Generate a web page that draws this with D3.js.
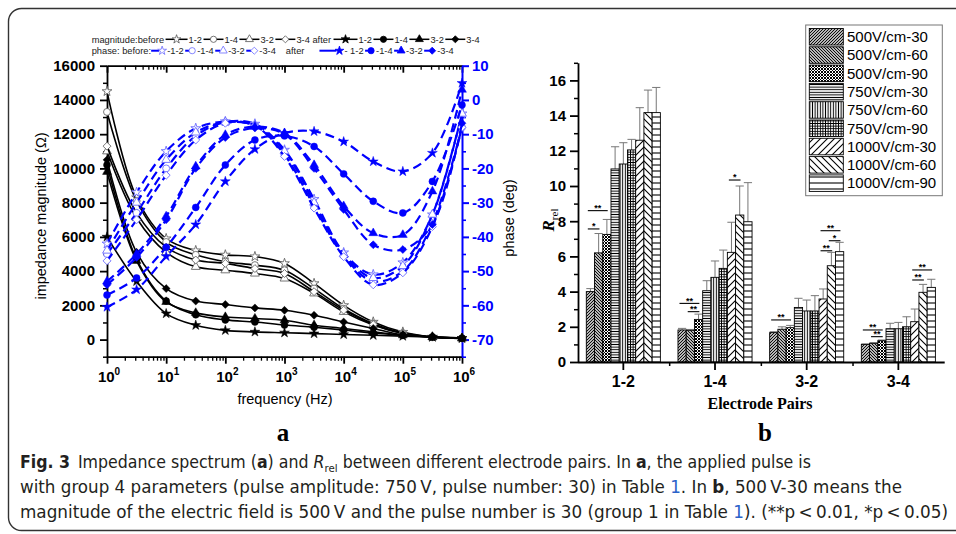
<!DOCTYPE html>
<html>
<head>
<meta charset="utf-8">
<script src="https://cdn.jsdelivr.net/npm/d3@7"></script>
<style>
  body { margin: 0; background: #fff; }
  svg text { font-family: "Liberation Sans", Arial, sans-serif; }
</style>
</head>
<body>
<svg width="956" height="534"></svg>
<script>
// ---------- panel a data: impedance spectrum ----------
const freqs = [1, 3.162, 10, 31.62, 100, 316.2, 1000, 3162, 1e4, 31620, 1e5, 316200, 1e6];
const pairs = ["1-2", "1-4", "3-2", "3-4"];

// magnitude (ohm)
const magBefore12 = [14500, 8300, 5900, 5200, 4950, 4850, 4450, 3280, 2000, 1030, 440, 150, 80];
const magBefore14 = [13300, 8100, 5700, 4950, 4550, 4350, 4050, 2980, 1800, 930, 380, 150, 80];
const magBefore32 = [11000, 7100, 5100, 4250, 4050, 3860, 3570, 2700, 1620, 850, 350, 140, 70];
const magBefore34 = [11300, 7400, 5400, 4650, 4450, 4150, 3860, 2800, 1720, 880, 360, 140, 70];
const magAfter12 = [6000, 3400, 1520, 840, 540, 450, 400, 350, 300, 250, 200, 150, 80];
const magAfter14 = [10200, 4700, 2250, 1450, 1150, 1030, 850, 720, 560, 380, 250, 150, 80];
const magAfter32 = [9800, 4600, 2200, 1560, 1320, 1230, 1130, 840, 650, 450, 250, 150, 80];
const magAfter34 = [10500, 5100, 2980, 2250, 2050, 1850, 1710, 1420, 1030, 650, 270, 160, 90];

// phase (deg)
const phBefore12 = [-42, -27, -15, -8.3, -6.3, -7, -14.6, -29, -44.6, -51, -47.5, -33.5, -4];
const phBefore14 = [-45, -33, -20, -10.5, -6.5, -7.5, -16, -31, -45.5, -53, -50, -36, -8];
const phBefore32 = [-44, -30, -17.5, -9.5, -6.5, -7.5, -15, -30, -45, -52, -48.5, -33.5, -4];
const phBefore34 = [-47, -35, -22, -11.7, -6.8, -7.5, -16.5, -31.6, -45.8, -54, -50.5, -37, -8];
const phAfter12 = [-60.5, -55.4, -45.7, -36.4, -23.8, -14.4, -9.7, -9.2, -12.2, -18, -20.9, -15.5, 4.9];
const phAfter14 = [-57, -52, -43, -31.4, -19, -11.7, -10.5, -13.6, -21.6, -29.6, -33, -23.8, -1.5];
const phAfter32 = [-53, -45, -34, -19.4, -10.2, -7.8, -9.7, -19, -31, -38.9, -39.4, -26.7, 3];
const phAfter34 = [-54, -46, -35, -20, -11, -8.2, -10, -20, -32, -42.3, -43.7, -36.4, -6.8];

// ---------- panel b data: R_rel per electrode pair ----------
const groups = ["500V/cm-30", "500V/cm-60", "500V/cm-90", "750V/cm-30", "750V/cm-60",
  "750V/cm-90", "1000V/cm-30", "1000V/cm-60", "1000V/cm-90"];
const rel12 = [4.0, 6.2, 7.25, 10.97, 11.25, 12.05, 12.6, 14.17, 14.17];
const rel14 = [1.82, 1.8, 2.42, 4.05, 4.81, 5.32, 6.23, 8.35, 7.97];
const rel32 = [1.67, 1.86, 1.95, 3.1, 2.9, 2.9, 3.58, 5.47, 6.27];
const rel34 = [1.0, 1.06, 1.21, 1.89, 1.89, 2.0, 2.29, 3.96, 4.24];
const sd12 = [0.17, 1.1, 0.85, 1.26, 1.21, 0.6, 1.85, 1.28, 1.43];
const sd14 = [0.09, 0.05, 0.3, 0.57, 0.93, 1.04, 1.71, 1.65, 2.22];
const sd32 = [0.05, 0.14, 0.13, 0.52, 0.62, 0.87, 0.57, 0.76, 0.53];
const sd34 = [0.03, 0.04, 0.04, 0.31, 0.36, 0.57, 0.72, 0.45, 0.46];
// significance brackets: pair, first bar, last bar, level, label
const sigPair = ["1-2", "1-2", "1-4", "1-4", "1-4", "3-2", "3-2", "3-2", "3-2", "3-4", "3-4", "3-4", "3-4"];
const sigFrom = [0, 0, 0, 1, 6, 0, 6, 7, 6, 0, 1, 6, 6];
const sigTo = [1, 2, 2, 2, 7, 2, 8, 8, 7, 2, 2, 8, 7];
const sigLevel = [7.56, 8.6, 3.33, 2.86, 10.34, 2.39, 7.46, 6.89, 6.32, 1.82, 1.44, 5.23, 4.66];
const sigLabel = ["*", "**", "**", "**", "*", "**", "**", "*", "**", "**", "**", "**", "**"];

const BLUE = "#0000ff";
const svg = d3.select("svg");

// outer frame
svg.append("rect")
  .attr("x", 8.5).attr("y", 8.5).attr("width", 990).attr("height", 522).attr("rx", 13)
  .attr("fill", "none").attr("stroke", "#333").attr("stroke-width", 1.4);

function tidy(g, color, width) {
  g.select(".domain").attr("stroke", color).attr("stroke-width", width);
  g.selectAll(".tick line").attr("stroke", color).attr("stroke-width", width);
  g.selectAll(".tick text").attr("fill", color)
    .style("font-weight", "bold").style("font-size", "15px");
}

// ================= panel a =================
const xA = d3.scaleLog().domain([1, 1e6]).range([107, 462]);
const yMag = d3.scaleLinear().domain([-1000, 16000]).range([356.7, 65.7]);
const yPh = d3.scaleLinear().domain([-75, 10]).range([356.7, 65.7]);

const decades = d3.range(0, 7).map(k => 10 ** k);
const minorF = [];
for (let k = 0; k < 6; k++) for (let m = 2; m < 10; m++) minorF.push(m * 10 ** k);

const gA = svg.append("g");

// left axis (magnitude)
const axL = gA.append("g").attr("transform", "translate(107,0)")
  .call(d3.axisLeft(yMag).tickValues(d3.range(0, 16001, 2000)).tickSize(7).tickSizeOuter(0)
    .tickPadding(5).tickFormat(d => String(d)));
tidy(axL, "#000", 1.8);
const axL2 = gA.append("g").attr("transform", "translate(107,0)")
  .call(d3.axisLeft(yMag).tickValues(d3.range(-1000, 16000, 2000)).tickSize(4).tickFormat(""));
axL2.select(".domain").remove();
tidy(axL2, "#000", 1.5);

// bottom axis
const axB = gA.append("g").attr("transform", "translate(0,356.7)")
  .call(d3.axisBottom(xA).tickValues(decades).tickSize(7).tickSizeOuter(0).tickFormat(""));
tidy(axB, "#000", 1.8);
const axB2 = gA.append("g").attr("transform", "translate(0,356.7)")
  .call(d3.axisBottom(xA).tickValues(minorF).tickSize(4).tickFormat(""));
axB2.select(".domain").remove();
tidy(axB2, "#000", 1.3);
decades.forEach((f, k) => {
  const t = gA.append("text").attr("x", xA(f) + 2).attr("y", 382)
    .attr("text-anchor", "middle").style("font-weight", "bold").style("font-size", "15px");
  t.append("tspan").text("10");
  t.append("tspan").attr("dy", -7).style("font-size", "10px").text(k);
});

// top axis
const axT = gA.append("g").attr("transform", "translate(0,65.7)")
  .call(d3.axisTop(xA).tickValues(decades).tickSize(-7).tickSizeOuter(0).tickFormat(""));
tidy(axT, "#000", 1.8);
const axT2 = gA.append("g").attr("transform", "translate(0,65.7)")
  .call(d3.axisTop(xA).tickValues(minorF).tickSize(-4).tickFormat(""));
axT2.select(".domain").remove();
tidy(axT2, "#000", 1.3);

// right axis (phase)
const axR = gA.append("g").attr("transform", "translate(462,0)")
  .call(d3.axisRight(yPh).tickValues(d3.range(-70, 11, 10)).tickSize(7).tickSizeOuter(0)
    .tickPadding(3).tickFormat(d => String(d)));
tidy(axR, BLUE, 2);
const axR2 = gA.append("g").attr("transform", "translate(462,0)")
  .call(d3.axisRight(yPh).tickValues(d3.range(-75, 10, 10)).tickSize(4).tickFormat(""));
axR2.select(".domain").remove();
tidy(axR2, BLUE, 1.6);

// axis titles
gA.append("text").attr("x", 285).attr("y", 404).attr("text-anchor", "middle")
  .style("font-size", "14.5px").text("frequency (Hz)");
gA.append("text").attr("transform", "translate(46,216) rotate(-90)").attr("text-anchor", "middle")
  .style("font-size", "14.5px").text("impedance magnitude (\u03A9)");
gA.append("text").attr("transform", "translate(514,218) rotate(-90)").attr("text-anchor", "middle")
  .style("font-size", "14.5px").text("phase (deg)");

// markers
const symTypes = [d3.symbolStar, d3.symbolCircle, d3.symbolTriangle, d3.symbolDiamond2 || d3.symbolDiamond];
const symSize = [30, 38, 34, 40];
const sym = p => d3.symbol().type(symTypes[p]).size(symSize[p])();

const magBefore = [magBefore12, magBefore14, magBefore32, magBefore34];
const magAfter = [magAfter12, magAfter14, magAfter32, magAfter34];
const phBefore = [phBefore12, phBefore14, phBefore32, phBefore34];
const phAfter = [phAfter12, phAfter14, phAfter32, phAfter34];

const lineMag = d3.line().x((d, i) => xA(freqs[i])).y(d => yMag(d)).curve(d3.curveCatmullRom);
const linePh = d3.line().x((d, i) => xA(freqs[i])).y(d => yPh(d)).curve(d3.curveCatmullRom);

function drawSeries(vals, line, y, p, filled, color, hollowStroke, dashed) {
  gA.append("path").attr("d", line(vals)).attr("fill", "none")
    .attr("stroke", color).attr("stroke-width", dashed ? 2.2 : 1.6)
    .attr("stroke-dasharray", dashed ? "9,5" : null);
  gA.append("g").selectAll("path").data(vals).join("path")
    .attr("d", sym(p))
    .attr("transform", (d, i) => `translate(${xA(freqs[i])},${y(d)})`)
    .attr("fill", filled ? color : "#fff")
    .attr("stroke", filled ? color : hollowStroke)
    .attr("stroke-width", filled ? 0.5 : 0.9);
}
magBefore.forEach((v, p) => drawSeries(v, lineMag, yMag, p, false, "#000", "#666", false));
magAfter.forEach((v, p) => drawSeries(v, lineMag, yMag, p, true, "#000", "#000", false));
phBefore.forEach((v, p) => drawSeries(v, linePh, yPh, p, false, BLUE, "#6a6aff", true));
phAfter.forEach((v, p) => drawSeries(v, linePh, yPh, p, true, BLUE, BLUE, true));

// legend of panel a
const legA = svg.append("g").style("font-size", "9.3px").attr("fill", "#222");
function legendRow(y, items, phase) {
  let cx = 91.7;
  items.forEach(it => {
    if (typeof it === "string" || it.t !== undefined) {
      const txt = typeof it === "string" ? it : it.t;
      const t = legA.append("text").attr("x", cx).attr("y", y + 3.3).text(txt);
      cx += t.node().getComputedTextLength() + (it.gap !== undefined ? it.gap : 1.5);
      return;
    }
    const color = phase ? BLUE : "#000";
    const len = it.len;
    const mark = d3.symbol().type(symTypes[it.p]).size(symSize[it.p] * 0.8)();
    legA.append("line").attr("x1", cx).attr("x2", cx + len).attr("y1", y).attr("y2", y)
      .attr("stroke", color).attr("stroke-width", phase ? 2 : 1.5);
    if (phase) {
      legA.append("path").attr("d", mark)
        .attr("transform", `translate(${cx + len + 3},${y})`)
        .attr("fill", it.f ? color : "#fff").attr("stroke", it.f ? color : "#6a6aff").attr("stroke-width", 0.8);
      cx += len + 8;
    } else {
      legA.append("path").attr("d", mark)
        .attr("transform", `translate(${cx + len / 2},${y})`)
        .attr("fill", it.f ? color : "#fff").attr("stroke", it.f ? color : "#555").attr("stroke-width", 0.8);
      cx += len + 1;
    }
  });
}
legendRow(39.3, [
  "magnitude:before", { p: 0, len: 22 }, "1-2", { p: 1, len: 20 }, "1-4", { p: 2, len: 20 }, "3-2",
  { p: 3, len: 20 }, { t: "3-4 after", gap: 2.5 }, { p: 0, f: 1, len: 24 }, "1-2", { p: 1, f: 1, len: 20 }, "1-4",
  { p: 2, f: 1, len: 20 }, "3-2", { p: 3, f: 1, len: 20 }, "3-4"
], false);
legendRow(50.7, [
  { t: "phase: before:", gap: 0 }, { p: 0, len: 8 }, "-1-2", { p: 1, len: 4 }, "-1-4", { p: 2, len: 5 }, "-3-2",
  { p: 3, len: 5 }, { t: "-3-4", gap: 10 }, { t: "after", gap: 15 }, { p: 0, f: 1, len: 17 }, "- 1-2",
  { p: 1, f: 1, len: 3 }, "-1-4", { p: 2, f: 1, len: 4 }, "-3-2", { p: 3, f: 1, len: 5 }, "-3-4"
], true);

svg.append("text").attr("x", 283).attr("y", 441).attr("text-anchor", "middle")
  .style("font-family", "'Liberation Serif', 'Times New Roman', serif").style("font-weight", "bold")
  .style("font-size", "25px").text("a");

// ================= panel b =================
const defs = svg.append("defs");
function addPattern(id, s, d, w) {
  const p = defs.append("pattern").attr("id", id).attr("patternUnits", "userSpaceOnUse")
    .attr("width", s).attr("height", s);
  p.append("rect").attr("width", s).attr("height", s).attr("fill", "#fff");
  p.append("path").attr("d", d).attr("stroke", "#000").attr("stroke-width", w).attr("fill", "none");
}
const up = s => `M0,${s} L${s},0 M${-s / 2},${s / 2} L${s / 2},${-s / 2} M${s / 2},${s * 1.5} L${s * 1.5},${s / 2}`;
const down = s => `M0,0 L${s},${s} M${-s / 2},${s / 2} L${s / 2},${s * 1.5} M${s / 2},${-s / 2} L${s * 1.5},${s / 2}`;
const horiz = s => `M0,${s / 2} H${s}`;
const vert = s => `M${s / 2},0 V${s}`;
addPattern("p0", 3, up(3), 1.1);
addPattern("p1", 3, down(3), 1.1);
addPattern("p2", 3, up(3) + down(3), 1.0);
addPattern("p3", 2.6, horiz(2.6), 1.0);
addPattern("p4", 2.6, vert(2.6), 1.0);
addPattern("p5", 2.6, horiz(2.6) + vert(2.6), 0.9);
addPattern("p6", 7, up(7), 1.1);
addPattern("p7", 7, down(7), 1.1);
addPattern("p8", 6, horiz(6), 1.1);

const relByPair = { "1-2": rel12, "1-4": rel14, "3-2": rel32, "3-4": rel34 };
const sdByPair = { "1-2": sd12, "1-4": sd14, "3-2": sd32, "3-4": sd34 };

const xB = d3.scaleBand().domain(pairs).range([577.5, 944.2]);
const xS = d3.scaleBand().domain(groups).range([0, xB.bandwidth()]).paddingOuter(1.07);
const yB = d3.scaleLinear().domain([0, 17]).range([362, 62.8]);

const gB = svg.append("g");
const bars = pairs.flatMap(pr => groups.map((g, i) => ({ pair: pr, group: g, i, v: relByPair[pr][i], sd: sdByPair[pr][i] })));

// error bars (upper only)
gB.append("g").selectAll("g").data(bars).join("g").each(function (d) {
  const cx = xB(d.pair) + xS(d.group) + xS.bandwidth() / 2;
  const g = d3.select(this);
  g.append("line").attr("x1", cx).attr("x2", cx).attr("y1", yB(d.v)).attr("y2", yB(d.v + d.sd))
    .attr("stroke", "#777").attr("stroke-width", 1);
  g.append("line").attr("x1", cx - xS.bandwidth() / 2).attr("x2", cx + xS.bandwidth() / 2)
    .attr("y1", yB(d.v + d.sd)).attr("y2", yB(d.v + d.sd)).attr("stroke", "#777").attr("stroke-width", 1);
});
gB.append("g").selectAll("rect").data(bars).join("rect")
  .attr("x", d => xB(d.pair) + xS(d.group))
  .attr("y", d => yB(d.v))
  .attr("width", xS.bandwidth())
  .attr("height", d => yB(0) - yB(d.v))
  .attr("fill", d => `url(#p${d.i})`)
  .attr("stroke", "#000").attr("stroke-width", 0.9);

// significance marks
sigPair.forEach((pr, k) => {
  const x1 = xB(pr) + xS(groups[sigFrom[k]]) + 1.5;
  const x2 = xB(pr) + xS(groups[sigTo[k]]) + xS.bandwidth() * 0.6;
  const y = yB(sigLevel[k]);
  gB.append("line").attr("x1", x1).attr("x2", x2).attr("y1", y).attr("y2", y)
    .attr("stroke", "#000").attr("stroke-width", 1.1);
  gB.append("text").attr("x", (x1 + x2) / 2).attr("y", y + 0.3).attr("text-anchor", "middle")
    .style("font-size", "9px").style("font-weight", "bold").text(sigLabel[k]);
});

// axes of panel b
const axBY = gB.append("g").attr("transform", "translate(578,0)")
  .call(d3.axisLeft(yB).tickValues(d3.range(0, 17, 2)).tickSize(8).tickSizeOuter(0).tickPadding(4));
tidy(axBY, "#000", 1.8);
const axBY2 = gB.append("g").attr("transform", "translate(578,0)")
  .call(d3.axisLeft(yB).tickValues(d3.range(1, 18, 2)).tickSize(4).tickFormat(""));
axBY2.select(".domain").remove();
tidy(axBY2, "#000", 1.5);

const axBX = gB.append("g").attr("transform", "translate(0,362)")
  .call(d3.axisBottom(xB).tickSize(8).tickSizeOuter(0).tickPadding(6));
tidy(axBX, "#000", 1.8);
axBX.selectAll(".tick text").style("font-size", "16px");
const axBX2 = gB.append("g").attr("transform", "translate(0,362)")
  .call(d3.axisBottom(d3.scaleLinear().domain([0, 4]).range(xB.range()))
    .tickValues([1, 2, 3]).tickSize(4).tickFormat(""));
axBX2.select(".domain").remove();
tidy(axBX2, "#000", 1.5);

const serif = "'Liberation Serif', 'Times New Roman', serif";
gB.append("text").attr("x", 760).attr("y", 409).attr("text-anchor", "middle")
  .style("font-family", serif).style("font-weight", "bold").style("font-size", "16px").text("Electrode Pairs");
const yl = gB.append("text").attr("transform", "translate(554,220) rotate(-90)").attr("text-anchor", "middle")
  .style("font-family", serif).style("font-size", "17px");
yl.append("tspan").style("font-style", "italic").style("font-weight", "bold").text("R");
yl.append("tspan").attr("dy", 4).style("font-size", "11px").text("rel");
svg.append("text").attr("x", 765).attr("y", 441).attr("text-anchor", "middle")
  .style("font-family", serif).style("font-weight", "bold").style("font-size", "25px").text("b");

// legend of panel b
const legB = svg.append("g");
legB.append("rect").attr("x", 805.7).attr("y", 25).attr("width", 136.6).attr("height", 170.7)
  .attr("fill", "#fff").attr("stroke", "#777").attr("stroke-width", 1);
groups.forEach((g, i) => {
  const y0 = 28.5 + i * 18.3;
  legB.append("rect").attr("x", 809.3).attr("y", y0).attr("width", 34).attr("height", 16.5)
    .attr("fill", `url(#p${i})`).attr("stroke", "#000").attr("stroke-width", 0.9);
  legB.append("text").attr("x", 847).attr("y", y0 + 13.5).style("font-size", "15px").text(g);
});

// ================= caption =================
const capLines = [
  [["b", "Fig. 3"], ["n", "\u2002Impedance spectrum ("], ["b", "a"], ["n", ") and "], ["i", "R"], ["s", "rel"],
   ["n", " between different electrode pairs. In "], ["b", "a"], ["n", ", the applied pulse is"]],
  [["n", "with group 4 parameters (pulse amplitude: 750\u2009V, pulse number: 30) in Table "], ["l", "1"],
   ["n", ". In "], ["b", "b"], ["n", ", 500\u2009V-30 means the"]],
  [["n", "magnitude of the electric field is 500\u2009V and the pulse number is 30 (group 1 in Table "], ["l", "1"],
   ["n", "). (**p\u2009<\u20090.01, *p\u2009<\u20090.05)"]]
];
const capY = [468, 493, 518];
const capW = [791, 882, 928];
capLines.forEach((parts, li) => {
  const t = svg.append("text").attr("x", 20).attr("y", capY[li])
    .attr("textLength", capW[li]).attr("lengthAdjust", "spacingAndGlyphs")
    .style("font-family", "'Liberation Sans Narrow', 'DejaVu Sans Condensed', sans-serif")
    .style("font-size", "17px").attr("fill", "#231f20");
  let sub = false;
  parts.forEach(([k, s]) => {
    const ts = t.append("tspan").text(s);
    if (k === "b") ts.style("font-weight", "bold");
    if (k === "i") ts.style("font-style", "italic");
    if (k === "l") ts.attr("fill", "#2a62c9");
    if (k === "s") { ts.attr("dy", 4).style("font-size", "11px"); sub = true; }
    else if (sub) { ts.attr("dy", -4); sub = false; }
  });
});
</script>
</body>
</html>
